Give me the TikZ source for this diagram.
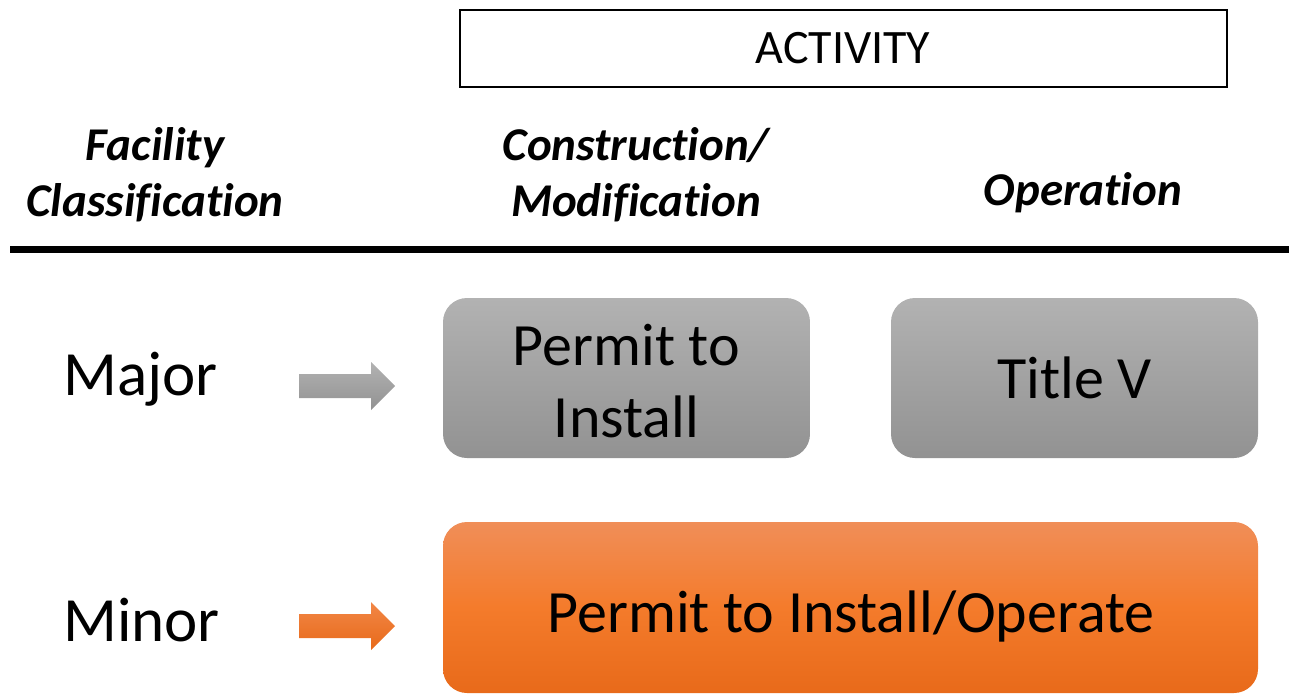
\documentclass[tikz,border=0pt]{standalone}
\usepackage{fontspec}
\setmainfont{Carlito}[Ligatures=NoCommon]
\begin{document}
\begin{tikzpicture}[x=1pt,y=-1pt,
  hdr/.style={font=\fontsize{47}{56}\selectfont\bfseries\itshape, align=center, inner sep=0},
  rowlbl/.style={font=\fontsize{63}{70}\selectfont, anchor=west, inner sep=0},
  boxtext/.style={font=\fontsize{60}{72}\selectfont, align=center, inner sep=0},
  greybox/.style={rounded corners=24pt, minimum width=367pt, minimum height=160pt,
    top color=grtop, bottom color=grbot, draw=none, inner sep=0},
  orangebox/.style={rounded corners=24pt, minimum width=815pt, minimum height=171pt,
    top color=orbtop, bottom color=orbbot, middle color=orbmid, draw=none, inner sep=0},
]
\definecolor{orbtop}{HTML}{F08E58}
\definecolor{orbmid}{HTML}{F47B2B}
\definecolor{orbbot}{HTML}{E86A1A}
\definecolor{grtop}{HTML}{B2B2B2}
\definecolor{grbot}{HTML}{929292}
\useasboundingbox (0,0) rectangle (1289,695);

% column heading box
\node[draw=black, line width=2pt, minimum width=767pt, minimum height=77pt, inner sep=0,
      font=\fontsize{48}{50}\selectfont] (act) at (843,48.5) {ACTIVITY};

% column headings
\node[hdr] (fac) at (155,175) {Facility\\Classification};
\node[hdr] (con) at (636,175) {Construction/\\Modification};
\node[hdr] (op)  at (1083,193) {Operation};

% heading rule
\coordinate (ruleL) at (10,249);
\coordinate (ruleR) at (1289,249);
\draw[line width=7pt] (ruleL) -- (ruleR);

% row labels
\node[rowlbl] (major) at (63,379) {Major};
\node[rowlbl] (minor) at (63,620) {Minor};

% permit boxes
\node[greybox] (pti) at (626.5,378) {};
\node[boxtext] (ptitext) at (626.5,381) {Permit to\\Install};
\node[greybox] (tv)  at (1074.5,378) {};
\node[boxtext, anchor=base] (tvtext) at (1074.5,398) {Title V};
\node[orangebox] (ptio) at (850.5,607.5) {};
\node[boxtext, anchor=base] (ptiotext) at (851,632) {Permit to Install/Operate};

% block arrows
\shade[top color=grtop, bottom color=grbot]
  (299,374) -- (371,374) -- (371,362) -- (395,386) -- (371,410) -- (371,398) -- (299,398) -- cycle;
\shade[top color=orbtop!60!orbmid, bottom color=orbbot]
  (299,614) -- (371,614) -- (371,602) -- (395,626) -- (371,650) -- (371,638) -- (299,638) -- cycle;
\end{tikzpicture}
\end{document}
